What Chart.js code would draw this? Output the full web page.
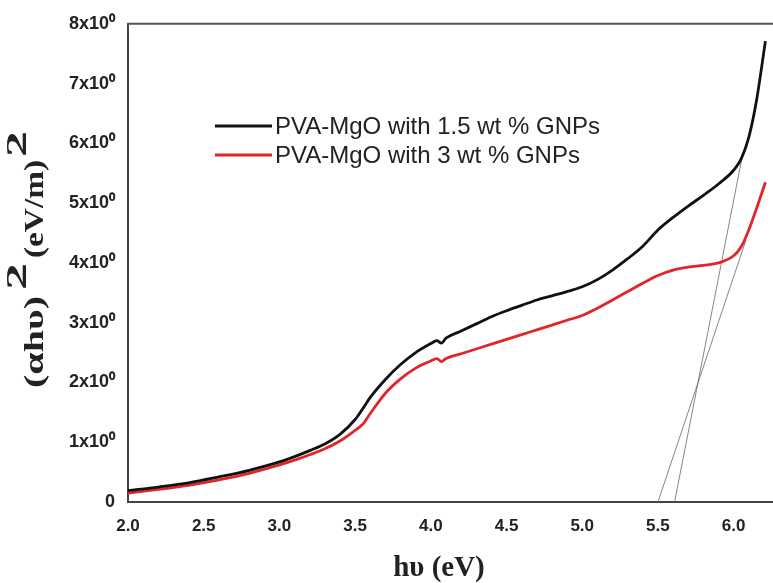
<!DOCTYPE html>
<html><head><meta charset="utf-8">
<script src="https://cdn.jsdelivr.net/npm/chart.js@4/dist/chart.umd.min.js"></script>
<style>html,body{margin:0;padding:0;background:#fff}#wrap{width:773px;height:583px}</style>
</head><body><div id="wrap"><canvas id="c" width="773" height="583"></canvas></div>
<script>
const energy =   [2.0, 2.2, 2.4, 2.6, 2.8, 3.0, 3.1, 3.2, 3.3, 3.4, 3.5, 3.55, 3.6, 3.7, 3.8, 3.9, 4.0, 4.04, 4.07, 4.1, 4.2, 4.3, 4.4, 4.5, 4.6, 4.7, 4.8, 4.9, 5.0, 5.1, 5.2, 5.3, 5.4, 5.5, 5.6, 5.7, 5.8, 5.9, 6.0, 6.05, 6.1, 6.15, 6.21];
const gnp15 =    [0.19,0.25,0.32,0.42,0.53,0.67,0.76,0.86,0.97,1.13,1.38,1.56,1.75,2.05,2.30,2.50,2.65,2.70,2.66,2.74,2.86,2.98,3.10,3.20,3.29,3.38,3.45,3.52,3.60,3.72,3.88,4.07,4.28,4.55,4.76,4.95,5.13,5.32,5.55,5.74,6.10,6.70,7.71];
const gnp3 =     [0.15,0.21,0.28,0.37,0.48,0.62,0.70,0.79,0.89,1.02,1.20,1.30,1.48,1.82,2.06,2.24,2.36,2.40,2.35,2.40,2.48,2.56,2.64,2.72,2.80,2.88,2.96,3.04,3.12,3.24,3.38,3.52,3.66,3.79,3.88,3.93,3.96,4.00,4.12,4.27,4.55,4.90,5.35];
const fitRedX = [5.5, 6.08];  const fitRedY = [0, 4.37];
const fitBlackX = [5.61, 6.06]; const fitBlackY = [0, 5.82];
const seriesLabels = ['PVA-MgO with 1.5 wt % GNPs', 'PVA-MgO with 3 wt % GNPs'];
const xTicks = [2.0, 2.5, 3.0, 3.5, 4.0, 4.5, 5.0, 5.5, 6.0];
const yTicks = [0, 1, 2, 3, 4, 5, 6, 7, 8];

const pts = (xs, ys) => xs.map((x, i) => ({x: x, y: ys[i]}));

const customDraw = {
  id: 'customDraw',
  afterDraw(chart) {
    const ctx = chart.ctx, a = chart.chartArea;
    ctx.save();
    // top frame
    ctx.strokeStyle = '#555'; ctx.lineWidth = 2;
    ctx.beginPath(); ctx.moveTo(a.left - 1, a.top); ctx.lineTo(a.right, a.top); ctx.stroke();
    // legend
    const lx = 215, ly = [126, 155];
    const cols = ['#111', '#e0262b'];
    ctx.font = '24px "Liberation Sans", Arial, sans-serif';
    ctx.textBaseline = 'middle'; ctx.textAlign = 'left';
    for (let i = 0; i < 2; i++) {
      ctx.strokeStyle = cols[i]; ctx.lineWidth = 3.2;
      ctx.beginPath(); ctx.moveTo(lx, ly[i]); ctx.lineTo(lx + 57, ly[i]); ctx.stroke();
      ctx.fillStyle = '#222';
      ctx.fillText(chart.data.datasets[i].label, lx + 60, ly[i] + 1);
    }
    // x title
    ctx.fillStyle = '#222';
    ctx.font = 'bold 29px "Liberation Serif", "Times New Roman", serif';
    ctx.textAlign = 'center'; ctx.textBaseline = 'alphabetic';
    ctx.fillText('h\u03C5 (eV)', 439, 576);
    // y title rotated, each piece fitted to its length along the axis
    ctx.translate(43, 388);
    ctx.rotate(-Math.PI / 2);
    ctx.textAlign = 'left';
    const big = 'bold 28px "Liberation Serif", "Times New Roman", serif';
    const sup = 'bold 30px "Liberation Serif", "Times New Roman", serif';
    const parts = [['(\u03B1h\u03C5)', big, 0, 92, 6], ['2', sup, -17, 27, 5], ['(eV/m)', big, 0, 98, 3], ['2', sup, -17, 26, 0]];
    let x = 0;
    for (const p of parts) {
      ctx.font = p[1];
      const w = ctx.measureText(p[0]).width;
      ctx.save();
      ctx.translate(x, 0);
      ctx.scale(p[3] / w, 1);
      ctx.fillText(p[0], 0, p[2]);
      ctx.restore();
      x += p[3] + p[4];
    }
    ctx.restore();
  }
};

new Chart(document.getElementById('c'), {
  type: 'line',
  data: {
    datasets: [
      {label: seriesLabels[0], data: pts(energy, gnp15), borderColor: '#111', borderWidth: 2.8, pointRadius: 0, cubicInterpolationMode: 'monotone', fill: false},
      {label: seriesLabels[1], data: pts(energy, gnp3), borderColor: '#e0262b', borderWidth: 2.8, pointRadius: 0, cubicInterpolationMode: 'monotone', fill: false},
      {label: 'fitRed', data: pts(fitRedX, fitRedY), borderColor: '#666', borderWidth: 0.8, pointRadius: 0, tension: 0, fill: false},
      {label: 'fitBlack', data: pts(fitBlackX, fitBlackY), borderColor: '#666', borderWidth: 0.8, pointRadius: 0, tension: 0, fill: false}
    ]
  },
  options: {
    responsive: false,
    animation: false,
    layout: {padding: {left: 0, top: 23, right: 0, bottom: 0}},
    plugins: {legend: {display: false}, tooltip: {enabled: false}},
    scales: {
      x: {
        type: 'linear', min: 2.0, max: 6.26,
        afterFit(s) { s.height = 81; },
        afterBuildTicks(s) { s.ticks = xTicks.map(v => ({value: v})); },
        grid: {display: false, drawTicks: false},
        border: {display: true, color: '#444', width: 2},
        ticks: {color: '#222', padding: 14, font: {family: '"Liberation Sans", Arial, sans-serif', size: 17, weight: 'bold'},
                callback: v => Number(v).toFixed(1), maxRotation: 0}
      },
      y: {
        type: 'linear', min: 0, max: 8,
        afterFit(s) { s.width = 128; },
        afterBuildTicks(s) { s.ticks = yTicks.map(v => ({value: v})); },
        grid: {display: false, drawTicks: false},
        border: {display: true, color: '#444', width: 2},
        ticks: {color: '#222', padding: 13, font: {family: '"Liberation Sans", Arial, sans-serif', size: 18, weight: 'bold'},
                callback: v => v === 0 ? '0' : v + 'x10\u2070'}
      }
    }
  },
  plugins: [customDraw]
});
</script>
</body></html>
